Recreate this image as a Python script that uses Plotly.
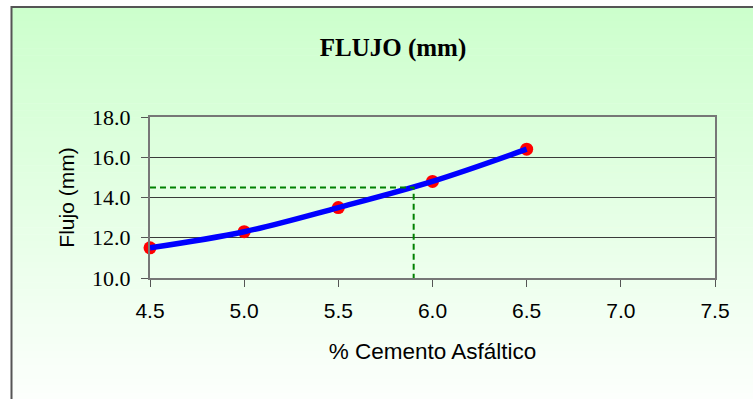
import plotly.graph_objects as go

# ---- data ----
asphalt_pct = [4.5, 5.0, 5.5, 6.0, 6.5]
flow_mm = [11.5, 12.3, 13.5, 14.8, 16.4]
design_pct = 5.9
design_flow = 14.5
x_ticks = [4.5, 5.0, 5.5, 6.0, 6.5, 7.0, 7.5]
y_ticks = [10.0, 12.0, 14.0, 16.0, 18.0]

W, H = 753, 399
L, R, T, B = 150, 38, 117, 121
pw, ph = W - L - R, H - T - B

def px_to_paper_x(px):
    return (px - L) / pw

def px_to_paper_y(py):
    return (H - B - py) / ph

fig = go.Figure()

# markers (under line)
fig.add_trace(go.Scatter(x=asphalt_pct, y=flow_mm, mode="markers", cliponaxis=False,
                         marker=dict(color="#ff0000", size=13),
                         showlegend=False, hoverinfo="skip"))
# smooth curve
fig.add_trace(go.Scatter(x=asphalt_pct, y=flow_mm, mode="lines", cliponaxis=False,
                         line=dict(color="#0000ff", width=5.5, shape="spline", smoothing=1),
                         showlegend=False))
# design guide lines
fig.add_trace(go.Scatter(x=[x_ticks[0], design_pct, design_pct],
                         y=[design_flow, design_flow, y_ticks[0]],
                         mode="lines", line=dict(color="#008000", width=2, dash="6px,4px"),
                         showlegend=False, hoverinfo="skip"))

# background gradient strips
shapes = []
top_px, bot_px = 7, 420
n = 60
c0 = (204, 255, 204)
c1 = (255, 255, 255)
for i in range(n):
    y0p = top_px + (bot_px - top_px) * i / n
    y1p = top_px + (bot_px - top_px) * (i + 1) / n
    f = (i + 0.5) / n
    col = tuple(round(c0[k] + (c1[k] - c0[k]) * f) for k in range(3))
    shapes.append(dict(type="rect", xref="paper", yref="paper", layer="below",
                       x0=px_to_paper_x(12), x1=px_to_paper_x(770),
                       y0=px_to_paper_y(y1p + 0.5), y1=px_to_paper_y(y0p),
                       fillcolor="rgb(%d,%d,%d)" % col, line=dict(width=0)))
# outer border
shapes.append(dict(type="rect", xref="paper", yref="paper", layer="below",
                   x0=px_to_paper_x(11.5), x1=px_to_paper_x(780),
                   y0=px_to_paper_y(430), y1=px_to_paper_y(7),
                   fillcolor="rgba(0,0,0,0)", line=dict(color="#555555", width=2)))

fig.update_layout(
    width=W, height=H,
    margin=dict(l=L, r=R, t=T, b=B),
    paper_bgcolor="white",
    plot_bgcolor="#ffffcc",
    shapes=shapes,
    title=dict(text="<b>FLUJO (mm)</b>", x=393 / W, xanchor="center",
               y=1 - 47 / H, yanchor="middle", yref="container",
               font=dict(family="Liberation Serif, Times New Roman, serif", size=25, color="black")),
    xaxis=dict(range=[4.5, 7.5], tickvals=x_ticks, ticktext=["%.1f" % v for v in x_ticks],
               showgrid=False, zeroline=False,
               showline=True, linecolor="#777777", linewidth=2, mirror=True,
               ticks="outside", ticklen=7, tickcolor="#555555", tickwidth=1,
               ticklabelstandoff=6,
               tickfont=dict(family="Liberation Sans, Arial, sans-serif", size=21, color="black"),
               title=dict(text="% Cemento Asfáltico", standoff=22,
                          font=dict(family="Liberation Sans, Arial, sans-serif", size=22.5, color="black"))),
    yaxis=dict(range=[10, 18], tickvals=y_ticks, ticktext=["%.1f" % v for v in y_ticks],
               showgrid=True, gridcolor="#3a3a3a", gridwidth=1, zeroline=False,
               showline=True, linecolor="#777777", linewidth=2, mirror=True,
               ticks="outside", ticklen=7, tickcolor="#555555", tickwidth=1,
               ticklabelstandoff=6,
               tickfont=dict(family="Liberation Serif, Times New Roman, serif", size=22, color="black"),
               title=dict(text="Flujo (mm)", standoff=12,
                          font=dict(family="Liberation Sans, Arial, sans-serif", size=21, color="black"))),
)

fig.write_html("out.html", config={"displayModeBar": False},
               post_script="document.body.style.margin='0';document.body.style.overflow='hidden';")
